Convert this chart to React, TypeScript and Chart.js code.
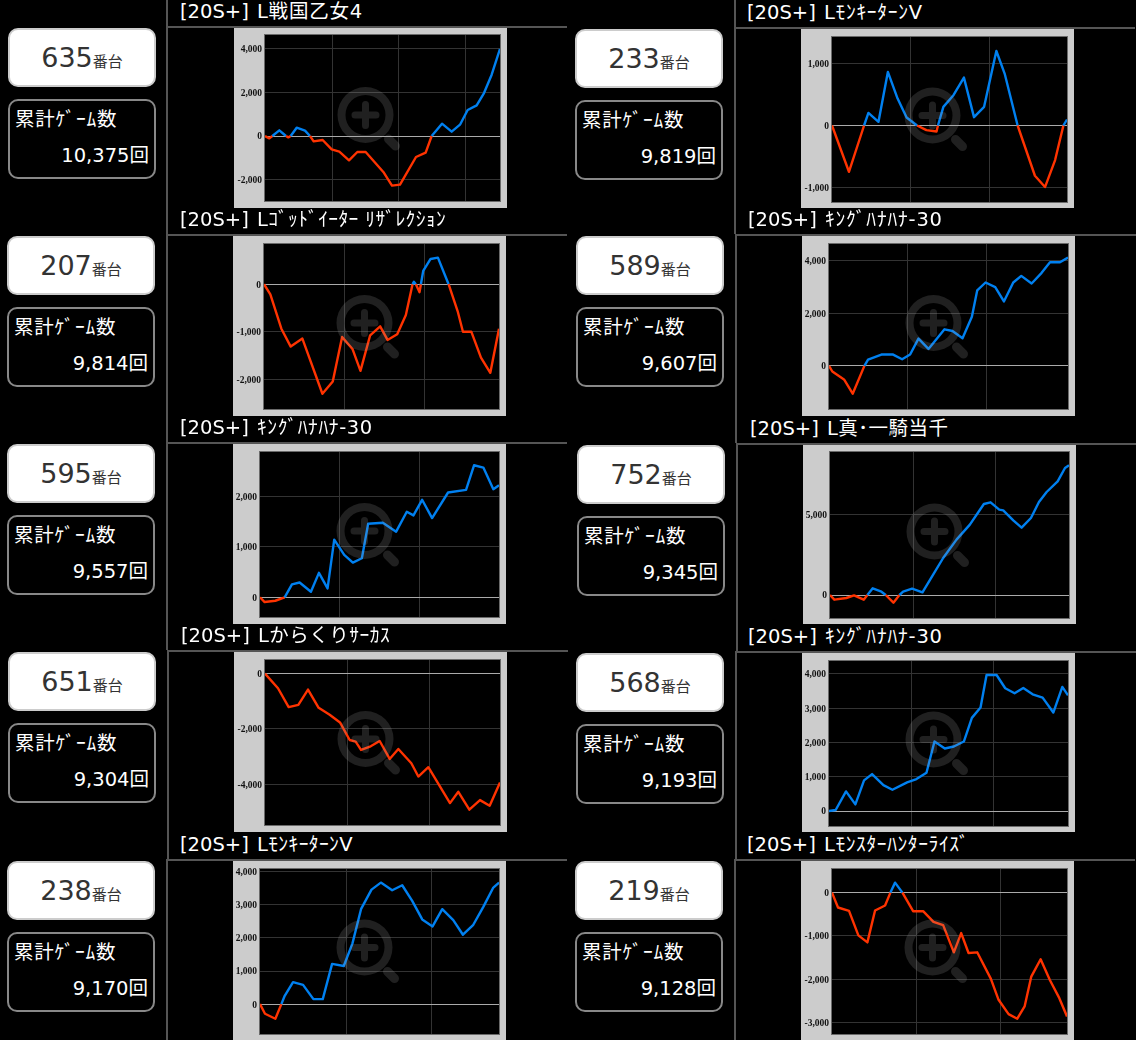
import React, { useEffect, useRef } from "react";
import { Chart, registerables } from "chart.js";

Chart.register(...registerables);

// x values are the distance along each graph's own time axis (arbitrary units)
const x635 = [0, 13, 22, 43, 63, 70, 77, 95, 120, 135, 146, 173, 200, 223, 252, 277, 302, 355, 381, 405, 453, 482, 500, 531, 560, 585, 608, 635, 657, 680, 705];
const y635 = [0, -107, 0, 260, 0, -61, 0, 380, 245, 0, -245, -183, -612, -719, -1117, -735, -735, -1652, -2280, -2234, -964, -765, 0, 566, 199, 520, 1193, 1408, 1974, 2815, 4000];
const x233 = [0, 47, 89, 101, 129, 155, 182, 207, 236, 262, 290, 294, 309, 337, 366, 394, 422, 456, 479, 515, 563, 591, 619, 642, 652];
const y233 = [0, -744, 0, 203, 59, 861, 433, 128, 0, -75, -96, 0, 300, 487, 770, 134, 300, 1198, 835, 0, -808, -990, -556, 0, 96];
const x207 = [0, 19, 52, 80, 115, 175, 206, 234, 265, 289, 318, 348, 370, 399, 425, 445, 449, 455, 466, 470, 477, 499, 521, 553, 580, 596, 621, 650, 678, 704];
const y207 = [0, -217, -937, -1314, -1146, -2307, -2048, -1111, -1363, -1824, -1076, -888, -1174, -1055, -650, 0, 49, 0, -168, 0, 280, 531, 559, 0, -566, -1000, -1000, -1545, -1866, -937];
const x589 = [0, 10, 45, 71, 106, 117, 157, 192, 219, 243, 268, 298, 346, 370, 400, 428, 444, 469, 498, 524, 552, 576, 607, 637, 662, 692, 716];
const y589 = [0, -215, -517, -1060, 0, 240, 429, 429, 252, 429, 1035, 644, 1388, 1325, 1047, 1868, 2865, 3168, 2991, 2448, 3168, 3420, 3130, 3534, 3937, 3937, 4114];
const x595 = [0, 14, 46, 74, 96, 119, 153, 177, 203, 223, 253, 279, 306, 325, 369, 409, 441, 461, 487, 517, 565, 619, 643, 671, 701, 718];
const y595 = [0, -92, -66, 0, 256, 295, 111, 485, 177, 1141, 839, 688, 774, 1456, 1475, 1298, 1692, 1620, 1928, 1567, 2072, 2124, 2610, 2564, 2138, 2216];
const x752 = [0, 13, 49, 72, 101, 112, 128, 154, 167, 190, 208, 219, 246, 277, 309, 339, 379, 419, 461, 481, 507, 519, 549, 574, 602, 626, 649, 682, 704, 716];
const y752 = [0, -292, -187, -21, -292, 0, 417, 208, 0, -479, 0, 208, 396, 167, 1271, 2312, 3458, 4395, 5687, 5791, 5333, 5291, 4666, 4208, 4812, 5812, 6437, 7104, 7937, 8104];
const x651 = [0, 39, 71, 100, 129, 161, 194, 225, 254, 272, 288, 317, 344, 374, 400, 439, 460, 490, 555, 580, 613, 645, 674, 705];
const y651 = [0, -528, -1212, -1128, -576, -1236, -1488, -1764, -2400, -2460, -2760, -2628, -2436, -3084, -2724, -3240, -3720, -3384, -4680, -4272, -4920, -4572, -4776, -3936];
const x568 = [0, 20, 51, 79, 105, 129, 163, 190, 234, 262, 292, 316, 347, 374, 404, 428, 454, 472, 502, 528, 556, 582, 610, 640, 672, 699, 716];
const y568 = [0, 29, 573, 194, 893, 1078, 757, 621, 835, 932, 1117, 2029, 1825, 1884, 2029, 2719, 3020, 3971, 3971, 3583, 3437, 3593, 3408, 3311, 2874, 3622, 3379];
const x238 = [0, 15, 46, 64, 74, 99, 129, 160, 188, 216, 251, 277, 303, 334, 362, 396, 426, 456, 486, 517, 546, 579, 608, 639, 669, 699, 716];
const y238 = [0, -291, -441, 0, 251, 662, 582, 150, 150, 1214, 1153, 1835, 2879, 3460, 3671, 3440, 3591, 3119, 2558, 2347, 2869, 2538, 2096, 2397, 2939, 3521, 3671];
const x219 = [0, 18, 51, 79, 106, 129, 159, 175, 189, 211, 243, 273, 304, 333, 365, 387, 409, 435, 476, 499, 529, 555, 577, 597, 625, 653, 681, 704];
const y219 = [0, -345, -422, -989, -1150, -414, -299, 0, 230, 0, -430, -430, -675, -752, -1380, -936, -1396, -1380, -1994, -2477, -2807, -2914, -2631, -1940, -1541, -2025, -2439, -2861];

const yTicksA = [-2000, 0, 2000, 4000];
const yTicksB = [-1000, 0, 1000];
const yTicksC = [-2000, -1000, 0];
const yTicksD = [0, 2000, 4000];
const yTicksE = [0, 1000, 2000];
const yTicksF = [0, 5000];
const yTicksG = [-4000, -2000, 0];
const yTicksH = [0, 1000, 2000, 3000, 4000];
const yTicksI = [-3000, -2000, -1000, 0];

const machines = ["635", "233", "207", "589", "595", "752", "651", "568", "238", "219"];
const names = ["L戦国乙女4", "LﾓﾝｷｰﾀｰﾝV", "Lｺﾞｯﾄﾞｲｰﾀｰ ﾘｻﾞﾚｸｼｮﾝ", "ｷﾝｸﾞﾊﾅﾊﾅ-30", "ｷﾝｸﾞﾊﾅﾊﾅ-30", "L真･一騎当千", "Lからくりｻｰｶｽ", "ｷﾝｸﾞﾊﾅﾊﾅ-30", "LﾓﾝｷｰﾀｰﾝV", "Lﾓﾝｽﾀｰﾊﾝﾀｰﾗｲｽﾞ"];
const games = [10375, 9819, 9814, 9607, 9557, 9345, 9304, 9193, 9170, 9128];
const xSeries = [x635, x233, x207, x589, x595, x752, x651, x568, x238, x219];
const ySeries = [y635, y233, y207, y589, y595, y752, y651, y568, y238, y219];
const yTicks = [yTicksA, yTicksB, yTicksC, yTicksD, yTicksE, yTicksF, yTicksG, yTicksH, yTicksH, yTicksI];

// layout of each panel, separate from the data
const layouts = [
  { grey: [234, 28, 273, 180], plot: [265, 35, 500, 201], box: [8, 28], line: [167, 26], tx: 180, yr: [-2985, 4640], xMax: 705, grid: [202, 401, 601], sp: 0.8 },
  { grey: [801, 29, 273, 179], plot: [832, 37, 1067, 202], box: [575, 29], line: [735, 27], tx: 747, yr: [-1230, 1423], xMax: 652, grid: [217, 436], sp: 0.7 },
  { grey: [233, 236, 273, 180], plot: [264, 244, 499, 409], box: [7, 236], line: [167, 234], tx: 180, yr: [-2628, 846], xMax: 704, grid: [240, 480], sp: 0.4 },
  { grey: [802, 236, 273, 180], plot: [829, 244, 1068, 409], box: [576, 236], line: [736, 234], tx: 748, yr: [-1640, 4631], xMax: 716, grid: [234, 471], sp: 0.8 },
  { grey: [233, 444, 273, 180], plot: [260, 452, 499, 617], box: [7, 444], line: [167, 442], tx: 180, yr: [-387, 2872], xMax: 718, grid: [239, 479], sp: 0.6 },
  { grey: [803, 445, 273, 179], plot: [830, 452, 1069, 618], box: [577, 445], line: [737, 443], tx: 750, yr: [-1437, 8936], xMax: 716, grid: [249, 497], sp: 0.5 },
  { grey: [234, 652, 273, 180], plot: [265, 660, 500, 825], box: [8, 652], line: [168, 650], tx: 181, yr: [-5472, 492], xMax: 705, grid: [246, 492], sp: 0.5 },
  { grey: [802, 653, 273, 179], plot: [829, 661, 1068, 826], box: [576, 653], line: [736, 651], tx: 748, yr: [-437, 4379], xMax: 716, grid: [246, 492], sp: 0.8 },
  { grey: [233, 861, 273, 179], plot: [260, 869, 499, 1034], box: [7, 861], line: [167, 859], tx: 180, yr: [-903, 4082], xMax: 716, grid: [258, 515], sp: 0.4 },
  { grey: [801, 861, 273, 179], plot: [832, 869, 1067, 1034], box: [575, 861], line: [735, 859], tx: 747, yr: [-3267, 545], xMax: 704, grid: [252, 504], sp: 0.6 },
];

const BLUE = "#0080f0";
const RED = "#ff3300";
const LATIN = '"DejaVu Sans", "Noto Sans CJK JP", sans-serif';

const panelPaint = {
  id: "panelPaint",
  beforeDraw(chart: any) {
    const { ctx, chartArea: a, width, height } = chart;
    ctx.save();
    ctx.fillStyle = "#cccccc";
    ctx.fillRect(0, 0, width, height);
    ctx.fillStyle = "#000000";
    ctx.fillRect(a.left, a.top, a.right - a.left, a.bottom - a.top);
    ctx.restore();
  },
  afterDraw(chart: any) {
    const { ctx, chartArea: a, width, height } = chart;
    ctx.save();
    // frame
    ctx.strokeStyle = "#6a6a6a";
    ctx.lineWidth = 1;
    ctx.strokeRect(a.left - 0.5, a.top - 0.5, a.right - a.left + 1, a.bottom - a.top + 1);
    // magnifier watermark, one path so overlaps do not double up
    const cx = width / 2 - 5;
    const cy = height / 2 - 3;
    ctx.fillStyle = "rgba(170,170,170,0.19)";
    ctx.beginPath();
    ctx.arc(cx, cy, 28, 0, Math.PI * 2, false);
    ctx.arc(cx, cy, 20, 0, Math.PI * 2, true);
    ctx.closePath();
    ctx.fill();
    ctx.beginPath();
    ctx.roundRect(cx - 14, cy - 3.5, 28, 7, 3.5);
    ctx.roundRect(cx - 3.5, cy - 14, 7, 28, 3.5);
    ctx.fill("nonzero");
    ctx.strokeStyle = "rgba(170,170,170,0.19)";
    ctx.lineCap = "round";
    ctx.lineWidth = 9;
    ctx.beginPath();
    ctx.moveTo(cx + 23, cy + 24);
    ctx.lineTo(cx + 30, cy + 31);
    ctx.stroke();
    ctx.restore();
  },
};

function Graph({ index }: { index: number }) {
  const ref = useRef<HTMLCanvasElement>(null);
  const l = layouts[index];
  const [gx, gy, gw, gh] = l.grey;
  const [pl, pt, pr, pb] = l.plot;
  useEffect(() => {
    const xs = xSeries[index];
    const ys = ySeries[index];
    const chart = new Chart(ref.current as HTMLCanvasElement, {
      type: "line",
      data: {
        datasets: [
          {
            data: xs.map((x, i) => ({ x, y: ys[i] })),
            borderColor: BLUE,
            borderWidth: 2.4,
            pointRadius: 0,
            tension: 0,
            fill: false,
            borderJoinStyle: "round",
            segment: {
              borderColor: (c: any) => (c.p0.parsed.y + c.p1.parsed.y >= 0 ? BLUE : RED),
            },
          },
        ],
      },
      options: {
        responsive: false,
        animation: false,
        devicePixelRatio: 1,
        layout: { padding: { left: 0, top: pt - gy, right: gx + gw - pr, bottom: gy + gh - pb } },
        plugins: { legend: { display: false }, tooltip: { enabled: false }, title: { display: false } },
        scales: {
          x: {
            type: "linear",
            min: 0,
            max: l.xMax,
            afterBuildTicks: (s: any) => {
              s.ticks = l.grid.map((value) => ({ value }));
            },
            afterFit: (s: any) => {
              s.height = 0;
            },
            ticks: { display: false },
            grid: { color: "#333333", drawTicks: false },
            border: { display: false },
          },
          y: {
            type: "linear",
            min: l.yr[0],
            max: l.yr[1],
            afterBuildTicks: (s: any) => {
              s.ticks = yTicks[index].map((value) => ({ value }));
            },
            afterFit: (s: any) => {
              s.width = pl - gx;
              s.paddingTop = 0;
              s.paddingBottom = 0;
            },
            ticks: {
              padding: 3,
              labelOffset: 1,
              color: "#111111",
              font: { family: '"Liberation Serif", serif', size: 9.5, weight: "bold" },
              callback: (v: any) => Number(v).toLocaleString("en-US"),
            },
            grid: {
              drawTicks: false,
              color: (c: any) => (c.tick && c.tick.value === 0 ? "#aaaaaa" : "#333333"),
            },
            border: { display: false },
          },
        },
      },
      plugins: [panelPaint],
    } as any);
    return () => chart.destroy();
  }, []);
  return (
    <canvas
      ref={ref}
      width={gw}
      height={gh}
      style={{ position: "absolute", left: gx, top: gy, width: gw, height: gh, display: "block" }}
    />
  );
}

function Panel({ index }: { index: number }) {
  const l = layouts[index];
  const [bx, by] = l.box;
  const [vx, hy] = l.line;
  const lineColor = "#555555";
  const nextTop = index + 2 < layouts.length ? layouts[index + 2].line[1] : 1040;
  return (
    <>
      <div style={{ position: "absolute", left: vx - 1, top: index < 2 ? 0 : hy, width: 2, height: nextTop - (index < 2 ? 0 : hy), background: lineColor }} />
      <div style={{ position: "absolute", left: vx, top: hy, width: 400, height: 2, background: lineColor }} />
      <div
        style={{
          position: "absolute",
          left: l.tx,
          top: hy - 27,
          height: 26,
          lineHeight: "26px",
          fontFamily: LATIN,
          fontSize: 19.5,
          color: "#fff",
          whiteSpace: "pre",
        }}
      >
        <span style={{ marginRight: 2 }}>{"[20S+] "}</span>
        <span style={{ letterSpacing: l.sp }}>{names[index]}</span>
      </div>
      <div
        style={{
          position: "absolute",
          left: bx,
          top: by,
          width: 148,
          height: 59,
          boxSizing: "border-box",
          background: "#fff",
          border: "2px solid #cccccc",
          borderRadius: 10,
          textAlign: "center",
          lineHeight: "55px",
          color: "#333",
          fontFamily: LATIN,
          fontSize: 27,
          whiteSpace: "pre",
        }}
      >
        {machines[index]}
        <span style={{ fontSize: 15, fontFamily: '"Noto Sans CJK JP", sans-serif' }}>番台</span>
      </div>
      <div
        style={{
          position: "absolute",
          left: bx,
          top: by + 71,
          width: 148,
          height: 80,
          boxSizing: "border-box",
          background: "#000",
          border: "2px solid #888888",
          borderRadius: 10,
          color: "#fff",
          fontFamily: LATIN,
          fontSize: 19.5,
        }}
      >
        <div style={{ position: "absolute", left: 5, top: 6, lineHeight: "26px", whiteSpace: "pre", letterSpacing: 0.8 }}>累計ｹﾞｰﾑ数</div>
        <div style={{ position: "absolute", right: 5, top: 42, lineHeight: "26px", whiteSpace: "pre" }}>
          {games[index].toLocaleString("en-US")}回
        </div>
      </div>
      <Graph index={index} />
    </>
  );
}

export default function App() {
  return (
    <div style={{ position: "absolute", left: 0, top: 0, width: 1136, height: 1040, background: "#000", overflow: "hidden" }}>
      {layouts.map((_, i) => (
        <Panel key={i} index={i} />
      ))}
    </div>
  );
}
